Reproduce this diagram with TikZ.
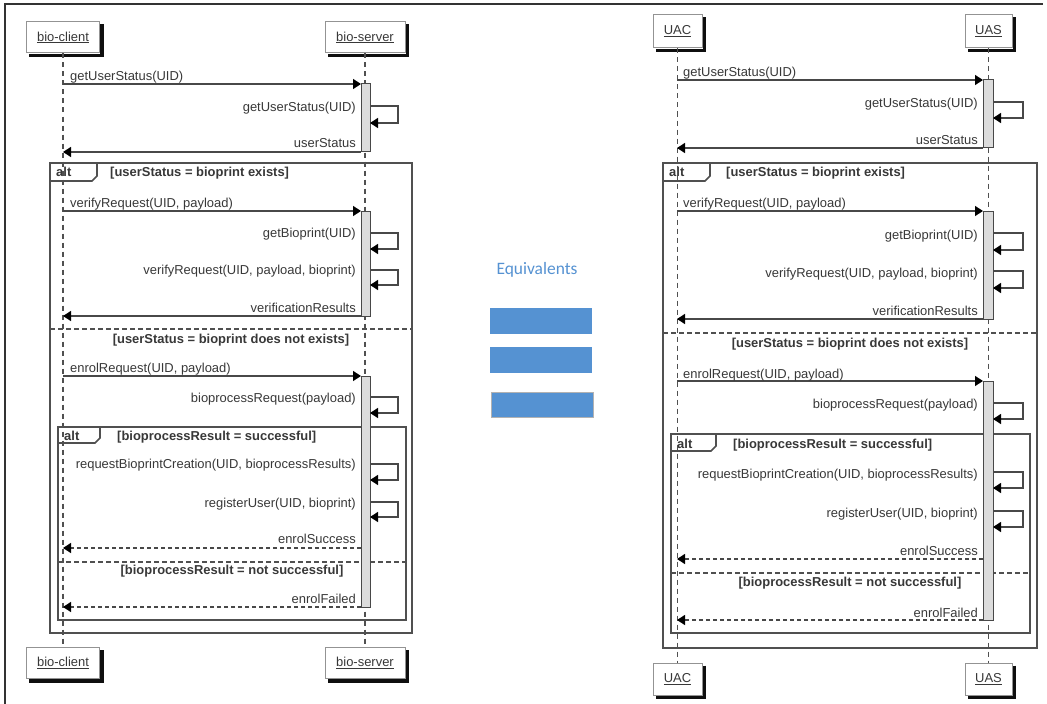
\documentclass[tikz,border=0pt]{standalone}
\usepackage{fontspec}
\setmainfont{Liberation Sans}
\newfontfamily\calib{Carlito}
\usetikzlibrary{arrows.meta}
\definecolor{txt}{HTML}{383838}
\definecolor{ln}{HTML}{484848}
\definecolor{frm}{HTML}{505050}
\definecolor{actfill}{HTML}{DCDCDC}
\definecolor{eqblue}{HTML}{5592D2}
\definecolor{shd}{rgb}{0.06,0.06,0.06}
\newcommand\selfloop[5]{%
  \coordinate (#1a) at (#2,#4); \coordinate (#1b) at (#3,#4);
  \coordinate (#1c) at (#3,#5); \coordinate (#1d) at (#2,#5);
  \draw[msg] (#1a) -- (#1b) -- (#1c) -- (#1d);}
\newcommand\arrmsg[5]{%
  \coordinate (#1s) at (#3,#5); \coordinate (#1e) at (#4,#5);
  \draw[#2] (#1s) -- (#1e);}
% name, cx, cy, w, h, text
\newcommand\partbox[6]{%
  \node[part, minimum width=#4bp, minimum height=#5bp] (#1) at (#2,#3) {\underline{#6}};
  \draw[draw=shd, line width=3.5bp] ([xshift=2.2bp,yshift=-3bp]#1.north east) -- ([xshift=2.2bp,yshift=-2.2bp]#1.south east) -- ([xshift=3bp,yshift=-2.2bp]#1.south west);}
\begin{document}
\begin{tikzpicture}[x=1bp,y=-1bp,
  font=\fontsize{13}{15}\selectfont, text=txt,
  lbl/.style={inner sep=0pt, anchor=base west},
  lblR/.style={inner sep=0pt, anchor=base east},
  guard/.style={inner sep=0pt, anchor=base west, font=\fontsize{13}{15}\selectfont\bfseries},
  guardC/.style={inner sep=0pt, anchor=base, font=\fontsize{13}{15}\selectfont\bfseries},
  msg/.style={draw=ln, line width=1.3bp, -{Triangle[length=8bp,width=10bp,color=black]}},
  ret/.style={msg, dash pattern=on 4bp off 3bp},
  life/.style={draw=frm, line width=1.2bp, dash pattern=on 5bp off 4bp},
  actbar/.style={draw=ln, line width=1bp, fill=actfill},
  frame/.style={draw=frm, line width=2.6bp},
  sep/.style={draw=frm, line width=2.3bp, dash pattern=on 5bp off 3bp},
  tab/.style={draw=frm, line width=1.6bp},
  part/.style={draw=gray!85, line width=1bp, fill=white, inner sep=0pt},
]
\fill[white] (0,0) rectangle (1047,704);
\useasboundingbox (0,0) rectangle (1047,704);
% page border
\draw[draw=black!80, line width=1.4bp] (5,704) -- (5,4) -- (1043,4);

% ================= LEFT DIAGRAM =================
% frames
\draw[frame] (50,163) rectangle (412,633);
\draw[tab] (50,163) -- (97,163) -- (97,176) -- (92,181) -- (50,181);
\node[guard] (Lalt1) at (56,177) {alt};
\node[guard] (Lg1) at (110,177) {[userStatus = bioprint exists]};
\draw[sep] (50,329) -- (412,329);
\node[guardC] (Lg2) at (231,343) {[userStatus = bioprint does not exists]};
\draw[frame] (58,427) rectangle (406,620);
\draw[tab] (58,427) -- (100,427) -- (100,438) -- (95,443) -- (58,443);
\node[guard] (Lalt2) at (64,440) {alt};
\node[guard] (Lg3) at (117,440) {[bioprocessResult = successful]};
\draw[sep] (58,562) -- (406,562);
\node[guardC] (Lg4) at (232,574) {[bioprocessResult = not successful]};
% participants
\partbox{Lc}{63}{37.5}{73}{31}{bio-client}
\partbox{Ls}{365}{37.5}{80}{31}{bio-server}
\partbox{Lcb}{63}{663}{73}{31}{bio-client}
\partbox{Lsb}{365}{663}{80}{31}{bio-server}
\draw[life] (Lc) -- (Lcb);
\draw[life] (Ls) -- (Lsb);
% activations
\draw[actbar] (361,84) rectangle (370,152);
\draw[actbar] (361,211) rectangle (370,316);
\draw[actbar] (361,376) rectangle (370,607);
% messages
\arrmsg{L1}{msg}{63}{361}{84}
\node[lbl] (L1t) at (70,81) {getUserStatus(UID)};
\selfloop{L2}{370}{398}{106}{123}
\node[lblR] (L2t) at (356,112) {getUserStatus(UID)};
\arrmsg{L3}{msg}{361}{63}{152}
\node[lblR] (L3t) at (356,148) {userStatus};
\arrmsg{L4}{msg}{63}{361}{211}
\node[lbl] (L4t) at (70,208) {verifyRequest(UID, payload)};
\selfloop{L5}{370}{398}{233}{249}
\node[lblR] (L5t) at (356,237) {getBioprint(UID)};
\selfloop{L6}{370}{398}{270}{285}
\node[lblR] (L6t) at (356,274) {verifyRequest(UID, payload, bioprint)};
\arrmsg{L7}{msg}{361}{63}{316}
\node[lblR] (L7t) at (356,312) {verificationResults};
\arrmsg{L8}{msg}{63}{361}{376}
\node[lbl] (L8t) at (70,372) {enrolRequest(UID, payload)};
\selfloop{L9}{370}{398}{397}{413}
\node[lblR] (L9t) at (356,402) {bioprocessRequest(payload)};
\selfloop{L10}{370}{398}{464}{480}
\node[lblR] (L10t) at (356,468) {requestBioprintCreation(UID, bioprocessResults)};
\selfloop{L11}{370}{398}{502}{517}
\node[lblR] (L11t) at (356,507) {registerUser(UID, bioprint)};
\arrmsg{L12}{ret}{361}{63}{548}
\node[lblR] (L12t) at (356,543) {enrolSuccess};
\arrmsg{L13}{ret}{361}{63}{607}
\node[lblR] (L13t) at (356,603) {enrolFailed};

% ================= RIGHT DIAGRAM =================
\draw[frame] (663,163) rectangle (1037,648);
\draw[tab] (663,163) -- (710,163) -- (710,176) -- (705,181) -- (663,181);
\node[guard] (Ralt1) at (669,177) {alt};
\node[guard] (Rg1) at (726,177) {[userStatus = bioprint exists]};
\draw[sep] (663,333) -- (1037,333);
\node[guardC] (Rg2) at (850,347) {[userStatus = bioprint does not exists]};
\draw[frame] (671,434) rectangle (1030,633);
\draw[tab] (671,434) -- (716,434) -- (716,446) -- (711,451) -- (671,451);
\node[guard] (Ralt2) at (677,448) {alt};
\node[guard] (Rg3) at (733,448) {[bioprocessResult = successful]};
\draw[sep] (671,573) -- (1030,573);
\node[guardC] (Rg4) at (850,586) {[bioprocessResult = not successful]};
% participants
\partbox{Rc}{677.5}{31.5}{49}{33}{UAC}
\partbox{Rs}{988.5}{31.5}{47}{33}{UAS}
\partbox{Rcb}{677.5}{679}{49}{32}{UAC}
\partbox{Rsb}{988.5}{679}{47}{32}{UAS}
\draw[life] (Rc) -- (Rcb);
\draw[life] (Rs) -- (Rsb);
% activations
\draw[actbar] (983,80) rectangle (993,148);
\draw[actbar] (983,211) rectangle (993,319);
\draw[actbar] (983,381) rectangle (993,620);
% messages
\arrmsg{R1}{msg}{677}{983}{80}
\node[lbl] (R1t) at (683,77) {getUserStatus(UID)};
\selfloop{R2}{993}{1023}{102}{118}
\node[lblR] (R2t) at (978,108) {getUserStatus(UID)};
\arrmsg{R3}{msg}{983}{677}{148}
\node[lblR] (R3t) at (978,145) {userStatus};
\arrmsg{R4}{msg}{677}{983}{211}
\node[lbl] (R4t) at (683,208) {verifyRequest(UID, payload)};
\selfloop{R5}{993}{1023}{233}{250}
\node[lblR] (R5t) at (978,239) {getBioprint(UID)};
\selfloop{R6}{993}{1023}{271}{288}
\node[lblR] (R6t) at (978,277) {verifyRequest(UID, payload, bioprint)};
\arrmsg{R7}{msg}{983}{677}{319}
\node[lblR] (R7t) at (978,315) {verificationResults};
\arrmsg{R8}{msg}{677}{983}{381}
\node[lbl] (R8t) at (683,378) {enrolRequest(UID, payload)};
\selfloop{R9}{993}{1023}{403}{419}
\node[lblR] (R9t) at (978,408) {bioprocessRequest(payload)};
\selfloop{R10}{993}{1023}{472}{488}
\node[lblR] (R10t) at (978,478) {requestBioprintCreation(UID, bioprocessResults)};
\selfloop{R11}{993}{1023}{511}{527}
\node[lblR] (R11t) at (978,517) {registerUser(UID, bioprint)};
\arrmsg{R12}{ret}{983}{677}{559}
\node[lblR] (R12t) at (978,555) {enrolSuccess};
\arrmsg{R13}{ret}{983}{677}{620}
\node[lblR] (R13t) at (978,617) {enrolFailed};

% ================= MIDDLE =================
\node[text=eqblue, font=\calib\fontsize{17.5}{20}\selectfont, inner sep=0pt] (eq) at (537,270) {Equivalents};
\fill[eqblue] (490,308) rectangle (592,334);
\fill[eqblue] (490,347) rectangle (592,373);
\filldraw[fill=eqblue, draw=gray!60, line width=0.8bp] (491,392) rectangle (593,417);
\end{tikzpicture}
\end{document}
